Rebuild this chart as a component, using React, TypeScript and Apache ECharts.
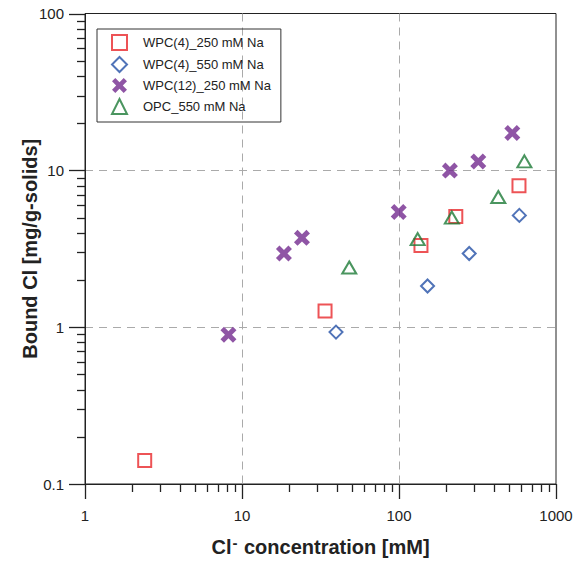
import React, { useEffect, useRef } from 'react';
import * as echarts from 'echarts';

const seriesNames = ['WPC(4)_250 mM Na', 'WPC(4)_550 mM Na', 'WPC(12)_250 mM Na', 'OPC_550 mM Na'];
const wpc4_250_x = [2.4, 33.8, 138, 230, 581];
const wpc4_250_y = [0.141, 1.27, 3.32, 5.07, 7.96];
const wpc4_550_x = [39.7, 152, 280, 584];
const wpc4_550_y = [0.93, 1.83, 2.95, 5.16];
const wpc12_250_x = [8.2, 18.5, 24.1, 99.6, 211, 320, 527];
const wpc12_250_y = [0.896, 2.95, 3.71, 5.43, 9.96, 11.4, 17.3];
const opc_550_x = [48.2, 131.5, 217, 429, 629];
const opc_550_y = [2.4, 3.64, 4.99, 6.76, 11.4];

const xRange = [1, 1000];
const yRange = [0.1, 100];
const xMajorTicks = [1, 10, 100, 1000];
const yMajorTicks = [0.1, 1, 10, 100];
const xMinorTicks = [2, 3, 4, 5, 6, 7, 8, 9, 20, 30, 40, 50, 60, 70, 80, 90, 200, 300, 400, 500, 600, 700, 800, 900];
const yMinorTicks = [0.2, 0.3, 0.4, 0.5, 0.6, 0.7, 0.8, 0.9, 2, 3, 4, 5, 6, 7, 8, 9, 20, 30, 40, 50, 60, 70, 80, 90];

const colors = ['#e8282c', '#2450a6', '#732b8f', '#1d7a37'];
const FONT = 'Liberation Sans, Arial, Helvetica, sans-serif';
const XPATH = 'path://M2.2,0 L5,2.8 L7.8,0 L10,2.2 L7.2,5 L10,7.8 L7.8,10 L5,7.2 L2.2,10 L0,7.8 L2.8,5 L0,2.2 Z';
const TICK = '#222';

const zip = (xs: number[], ys: number[]) => xs.map((x, i) => [x, ys[i]]);
const fmt = (v: number) => String(+v.toPrecision(6));

export default function App() {
  const ref = useRef<HTMLDivElement>(null);
  useEffect(() => {
    if (!ref.current) return;
    const chart = echarts.init(ref.current, undefined, { renderer: 'svg' });
    const open = (c: string) => ({ color: 'rgba(255,255,255,0)', borderColor: c, borderWidth: 2 });
    chart.setOption({
      animation: false,
      backgroundColor: '#fff',
      grid: { left: 85, right: 26, top: 13.5, bottom: 75, show: true, borderColor: '#222', borderWidth: 1, backgroundColor: 'transparent' },
      legend: {
        orient: 'vertical', left: 97, top: 29,
        data: seriesNames,
        itemWidth: 15, itemHeight: 15, itemGap: 5,
        borderColor: '#333', borderWidth: 1, padding: [5, 10, 7, 14],
        textStyle: { fontSize: 13, fontFamily: FONT, color: '#222', padding: [0, 0, 0, 11] },
      },
      xAxis: {
        type: 'log', min: xRange[0], max: xRange[1],
        name: '{a|Cl}{s|-}{a| concentration [mM]}', nameLocation: 'middle', nameGap: 51,
        nameTextStyle: {
          rich: {
            a: { fontSize: 20, fontWeight: 'bold', fontFamily: FONT, color: '#222' },
            s: { fontSize: 15, fontWeight: 'bold', fontFamily: FONT, color: '#222', padding: [0, 1, 9, 1] },
          },
        },
        axisLine: { show: true, lineStyle: { color: '#222', width: 1 } },
        axisTick: { show: false },
        axisLabel: { fontSize: 15, fontFamily: FONT, color: '#222', margin: 24, formatter: fmt },
        splitLine: { show: true, showMinLine: false, showMaxLine: false, lineStyle: { color: '#aaa', type: [8, 6], width: 1 } },
      },
      yAxis: {
        type: 'log', min: yRange[0], max: yRange[1],
        name: 'Bound Cl [mg/g-solids]', nameLocation: 'middle', nameGap: 45, nameMoveOverlap: false,
        nameTextStyle: { fontSize: 20, fontWeight: 'bold', fontFamily: FONT, color: '#222' },
        axisLine: { show: true, lineStyle: { color: '#222', width: 1 } },
        axisTick: { show: false },
        axisLabel: { fontSize: 15, fontFamily: FONT, color: '#222', margin: 21, formatter: fmt },
        splitLine: { show: true, showMinLine: false, showMaxLine: false, lineStyle: { color: '#aaa', type: [8, 6], width: 1 } },
      },
      series: [
        { name: seriesNames[0], type: 'scatter', symbol: 'rect', symbolSize: 13, data: zip(wpc4_250_x, wpc4_250_y), itemStyle: open(colors[0]) },
        { name: seriesNames[1], type: 'scatter', symbol: 'diamond', symbolSize: 13, data: zip(wpc4_550_x, wpc4_550_y), itemStyle: open(colors[1]) },
        { name: seriesNames[2], type: 'scatter', symbol: XPATH, symbolSize: 16, data: zip(wpc12_250_x, wpc12_250_y), itemStyle: { color: colors[2] } },
        { name: seriesNames[3], type: 'scatter', symbol: 'triangle', symbolSize: [14, 12], data: zip(opc_550_x, opc_550_y), itemStyle: open(colors[3]) },
      ],
    });

    const toPx = (v: number[]) => chart.convertToPixel({ xAxisIndex: 0, yAxisIndex: 0 }, v) as number[];
    const elems: any[] = [];
    const addX = (v: number, len: number) => {
      const p = toPx([v, yRange[0]]);
      if (!p || isNaN(p[0])) return;
      const x = Math.round(p[0]) + 0.5;
      elems.push({ type: 'line', silent: true, z: 100, shape: { x1: x, y1: p[1], x2: x, y2: p[1] + len }, style: { stroke: TICK, lineWidth: 1.3 } });
    };
    const addY = (v: number, len: number) => {
      const p = toPx([xRange[0], v]);
      if (!p || isNaN(p[1])) return;
      const y = Math.round(p[1]) + 0.5;
      elems.push({ type: 'line', silent: true, z: 100, shape: { x1: p[0] - len, y1: y, x2: p[0], y2: y }, style: { stroke: TICK, lineWidth: 1.3 } });
    };
    xMajorTicks.forEach((v) => addX(v, 15));
    xMinorTicks.forEach((v) => addX(v, 8));
    yMajorTicks.forEach((v) => addY(v, 16));
    yMinorTicks.forEach((v) => addY(v, 8));
    chart.setOption({ graphic: { elements: elems } });

    return () => chart.dispose();
  }, []);
  return <div ref={ref} style={{ position: 'fixed', left: 0, top: 0, width: 582, height: 562 }} />;
}
